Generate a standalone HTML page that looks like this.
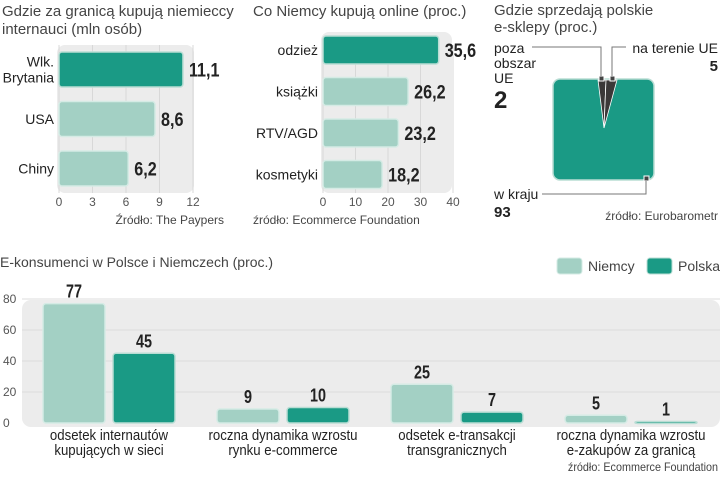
<!DOCTYPE html>
<html><head><meta charset="utf-8"><style>
body{margin:0;width:720px;height:472px;background:#fff;overflow:hidden;font-family:"Liberation Sans",sans-serif;}
svg text{font-family:"Liberation Sans",sans-serif;}
</style></head><body>
<svg width="720" height="472">
<g id="c1">
<text x="2" y="16" font-size="15" fill="#444">Gdzie za granicą kupują niemieccy</text>
<text x="2" y="34" font-size="15" fill="#444">internauci (mln osób)</text>
<rect x="57" y="45" width="137" height="148" rx="8" fill="#ececec"/>
</g>
<g id="c2">
<text x="253" y="16" font-size="15" fill="#444">Co Niemcy kupują online (proc.)</text>
<rect x="321" y="32" width="131" height="161" rx="8" fill="#ececec"/>
</g>
<g>
<text x="494" y="15" font-size="15" fill="#444">Gdzie sprzedają polskie</text>
<text x="494" y="32" font-size="15" fill="#444">e-sklepy (proc.)</text>
<rect x="553" y="79" width="101" height="101" rx="7" fill="#1a9a85" stroke="#b9ddd4" stroke-width="1.5"/>
<polygon points="598,80 604,128 606,80" fill="#3b3838" stroke="#fff" stroke-width="0.8"/>
<polygon points="606,80 604,128 617,80" fill="#3b3838" stroke="#fff" stroke-width="0.8"/>
<rect x="599" y="76" width="5" height="5" fill="#444" stroke="#fff"/><rect x="610" y="76" width="5" height="5" fill="#444" stroke="#fff"/>
<rect x="644" y="176" width="5" height="5" fill="#444" stroke="#fff"/>
<polyline points="532,47 601,47 601,76" fill="none" stroke="#777"/>
<polyline points="626,47 612,47 612,76" fill="none" stroke="#777"/>
<polyline points="542,194 646,194 646,181" fill="none" stroke="#777"/>
<text x="494" y="53" font-size="14" fill="#222">poza</text>
<text x="494" y="68" font-size="14" fill="#222">obszar</text>
<text x="494" y="83" font-size="14" fill="#222">UE</text>
<text x="494" y="108" font-size="24" font-weight="bold" fill="#222">2</text>
<text x="718" y="53" font-size="14" fill="#222" text-anchor="end">na terenie UE</text>
<text x="718" y="71" font-size="15" font-weight="bold" fill="#222" text-anchor="end">5</text>
<text x="494" y="199" font-size="14" fill="#222">w kraju</text>
<text x="494" y="217" font-size="15" font-weight="bold" fill="#222">93</text>
<text x="718" y="220" font-size="12" fill="#444" text-anchor="end">źródło: Eurobarometr</text>
</g>
<g id="c4">
<text x="0" y="267" font-size="14" fill="#444">E-konsumenci w Polsce i Niemczech (proc.)</text>
<rect x="22" y="300" width="698" height="127" rx="9" fill="#ececec"/>
<rect x="557" y="258" width="25" height="16" rx="3" fill="#a3d0c4" stroke="#d5ebe5"/>
<text x="588" y="271" font-size="14" fill="#444">Niemcy</text>
<rect x="647" y="258" width="25" height="16" rx="3" fill="#1a9a85" stroke="#b9ddd4"/>
<text x="678" y="271" font-size="14" fill="#444">Polska</text>
<text id="src4" x="718" y="471" font-size="12" fill="#444" text-anchor="end">źródło: Ecommerce Foundation</text>
</g>
<text x="224" y="224" font-size="12" fill="#444" text-anchor="end">Źródło: The Paypers</text>
<text x="253" y="224" font-size="12" fill="#444">źródło: Ecommerce Foundation</text>
</svg>
<script>
const NS='http://www.w3.org/2000/svg';
const c1Cats=['Wlk.|Brytania','USA','Chiny'];
const c1Vals=[11.1,8.6,6.2];
const c1Labels=['11,1','8,6','6,2'];
const c1Ticks=[0,3,6,9,12];
const c2Cats=['odzież','książki','RTV/AGD','kosmetyki'];
const c2Vals=[35.6,26.2,23.2,18.2];
const c2Labels=['35,6','26,2','23,2','18,2'];
const c2Ticks=[0,10,20,30,40];
const c4Cats=['odsetek internautów|kupujących w sieci','roczna dynamika wzrostu|rynku e-commerce','odsetek e-transakcji|transgranicznych','roczna dynamika wzrostu|e-zakupów za granicą'];
const c4Niemcy=[77,9,25,5];
const c4Polska=[45,10,7,1];
const c4Ticks=[0,20,40,60,80];
function mk(p,t,a){const e=document.createElementNS(NS,t);for(const k in a)e.setAttribute(k,a[k]);p.appendChild(e);return e;}
function condense(t,f){const w=t.getComputedTextLength();t.setAttribute('textLength',w*f);t.setAttribute('lengthAdjust','spacingAndGlyphs');}
condense(document.getElementById('src4'),0.9);
function hbar(gid,cats,vals,labels,ticks,x0,pxPer,y0,step,bh,tickY){
 const g=document.getElementById(gid);
 const X=v=>x0+v*pxPer;
 ticks.forEach(t=>{
  mk(g,'line',{x1:X(t),x2:X(t),y1:45,y2:193,stroke:'#d8d8d8'});
  const tx=mk(g,'text',{x:X(t),y:tickY,'font-size':12,fill:'#555','text-anchor':'middle'});tx.textContent=t;
  
  
 });
 cats.forEach((c,i)=>{
  const y=y0+i*step;
  const r=mk(g,'rect',{x:x0,y:y,width:X(vals[i])-x0,height:bh,rx:3,fill:i===0?'#1a9a85':'#a3d0c4',stroke:i===0?'#b9ddd4':'#d5ebe5','stroke-width':1.5});
  
  
  const parts=c.split('|');
  parts.forEach((p,j)=>{
   const t=mk(g,'text',{x:x0-5,y:y+bh/2+5+(j-(parts.length-1)/2)*16,'font-size':14,fill:'#222','text-anchor':'end'});t.textContent=p;
   
   
  });
  const v=mk(g,'text',{x:X(vals[i])+6,y:y+bh/2+7,'font-size':19,'font-weight':'bold',fill:'#222'});v.textContent=labels[i];
  
  
  condense(v,0.85);
 });
}
hbar('c1',c1Cats,c1Vals,c1Labels,c1Ticks,59,134/12,52,49.5,35,206);
hbar('c2',c2Cats,c2Vals,c2Labels,c2Ticks,323,130/40,36,41.5,28,206);
(function(){
 const g=document.getElementById('c4');
 const Y=v=>423-v*(124/80);
 c4Ticks.forEach(t=>{
  if(t>0)mk(g,'line',{x1:22,x2:720,y1:Y(t),y2:Y(t),stroke:'#dcdcdc'});
  const tx=mk(g,'text',{x:3,y:Y(t)+4,'font-size':12,fill:'#555'});tx.textContent=t;
  
  
 });
 c4Cats.forEach((c,i)=>{
  const cx=109+i*174;
  [[c4Niemcy[i],cx-66,'#a3d0c4','#d5ebe5','niemcy'],[c4Polska[i],cx+4,'#1a9a85','#b9ddd4','polska']].forEach(([v,x,f,s,n])=>{
   const r=mk(g,'rect',{x:x,y:Y(v),width:62,height:Math.max(423-Y(v),2),rx:3,fill:f,stroke:s,'stroke-width':1.5});
   
   
   const t=mk(g,'text',{x:x+31,y:Y(v)-6,'font-size':18,'font-weight':'bold',fill:'#222','text-anchor':'middle'});t.textContent=v;
   
   
   condense(t,0.8);
  });
  c.split('|').forEach((p,j)=>{
   const t=mk(g,'text',{x:cx,y:440+j*15,'font-size':15,fill:'#222','text-anchor':'middle'});t.textContent=p;
   
   
   condense(t,0.88);
  });
 });
})();
</script>
</body></html>
